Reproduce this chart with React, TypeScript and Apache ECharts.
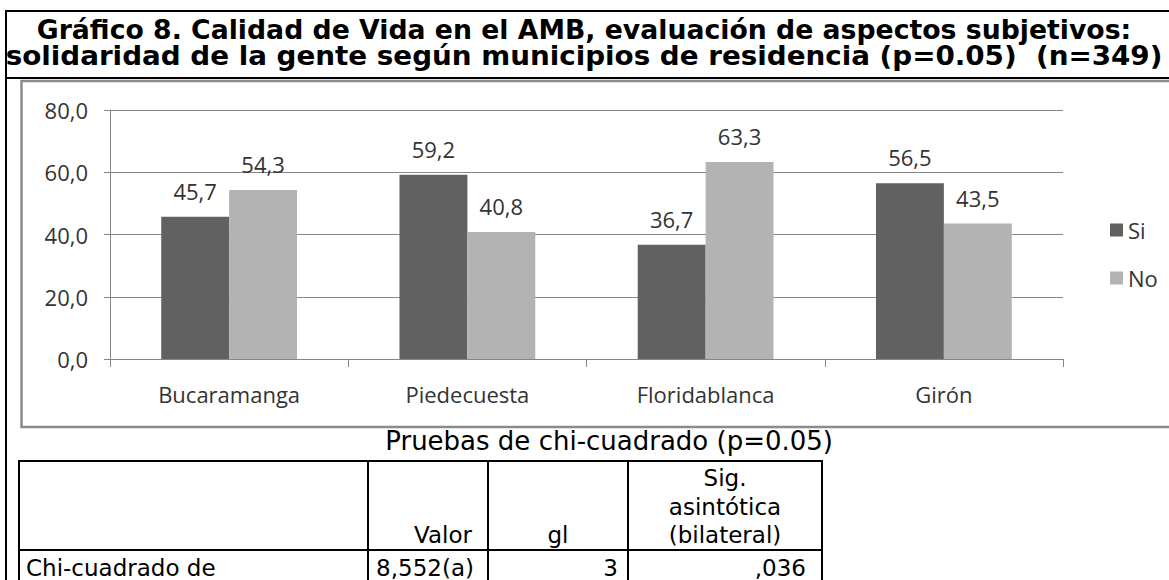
import React, { useEffect, useRef } from "react";
import * as echarts from "echarts";

const categories = ["Bucaramanga", "Piedecuesta", "Floridablanca", "Girón"];
const seriesNames = ["Si", "No"];
const siValues = [45.7, 59.2, 36.7, 56.5];
const noValues = [54.3, 40.8, 63.3, 43.5];
const yMin = 0;
const yMax = 80;
const yStep = 20;

const titleLines = [
  "Gráfico 8. Calidad de Vida en el AMB, evaluación de aspectos subjetivos:",
  "solidaridad de la gente según municipios de residencia (p=0.05)  (n=349)",
];
const tableTitle = "Pruebas de chi-cuadrado (p=0.05)";
const tableHeaderSig = ["Sig.", "asintótica", "(bilateral)"];
const tableHeader = ["", "Valor", "gl"];
const tableRow = ["Chi-cuadrado de", "8,552(a)", "3", ",036"];

const fmt = (v: number) => v.toFixed(1).replace(".", ",");

const CHART_FONT = '"Open Sans", "Noto Sans", sans-serif';
const DOC_FONT = '"DejaVu Sans", Verdana, sans-serif';

function measure(text: string, font: string) {
  const ctx = document.createElement("canvas").getContext("2d");
  if (!ctx) return 0;
  ctx.font = font;
  return ctx.measureText(text).width;
}

function txt(text: string, x: number, y: number, font: string, align: string, extra: any = {}) {
  return {
    type: "text",
    z: 10,
    x,
    y,
    style: {
      text,
      x: 0,
      y: 0,
      font,
      fill: "#000",
      align,
      verticalAlign: "middle",
      textAlign: align,
      textVerticalAlign: "middle",
    },
    ...extra,
  };
}

function ln(x1: number, y1: number, x2: number, y2: number, stroke: string, lineWidth: number) {
  return {
    type: "line",
    z: 5,
    shape: { x1, y1, x2, y2 },
    style: { stroke, lineWidth },
  };
}

export default function App() {
  const ref = useRef<HTMLDivElement>(null);
  useEffect(() => {
    if (!ref.current) return;
    const chart = echarts.init(ref.current, undefined, { renderer: "svg" });
    const titleFont = `bold 27px ${DOC_FONT}`;
    const cellFont = `23px ${DOC_FONT}`;
    const titleTargets = [1095, 1157];
    const titleScale = titleLines.map((t, i) => {
      const w = measure(t, titleFont);
      return w > 0 ? titleTargets[i] / w : 1;
    });
    const graphic: any[] = [
      // title box
      ln(5, 11, 1169, 11, "#000", 2),
      ln(6, 11, 6, 580, "#000", 2),
      ln(5, 78, 1169, 78, "#000", 2),
      txt(titleLines[0], 584, 29, titleFont, "center", { scaleX: titleScale[0] }),
      txt(titleLines[1], 584, 56, titleFont, "center", { scaleX: titleScale[1] }),
      // chart frame
      {
        type: "rect",
        z: 4,
        shape: { x: 21.5, y: 81, width: 1200, height: 346 },
        style: { fill: "none", stroke: "#8b8b8b", lineWidth: 2.5 },
      },
      // table title
      txt(tableTitle, 833, 441, `26px ${DOC_FONT}`, "right"),
      // table lines
      ln(18, 461, 823, 461, "#000", 2),
      ln(18, 550, 823, 550, "#000", 2),
      ln(19, 460, 19, 580, "#000", 2),
      ln(368, 460, 368, 580, "#000", 2),
      ln(488, 460, 488, 580, "#000", 2),
      ln(628, 460, 628, 580, "#000", 2),
      ln(822, 460, 822, 580, "#000", 2),
      // header
      txt(tableHeader[1], 472, 535, cellFont, "right"),
      txt(tableHeader[2], 558, 535, cellFont, "center"),
      txt(tableHeaderSig[0], 725, 478, cellFont, "center"),
      txt(tableHeaderSig[1], 725, 507, cellFont, "center"),
      txt(tableHeaderSig[2], 725, 535, cellFont, "center"),
      // row
      txt(tableRow[0], 26, 568, cellFont, "left"),
      txt(tableRow[1], 474, 568, cellFont, "right"),
      txt(tableRow[2], 618, 568, cellFont, "right"),
      txt(tableRow[3], 806, 568, cellFont, "right"),
    ];

    const labelStyle = {
      show: true,
      position: "top",
      distance: 15,
      fontFamily: CHART_FONT,
      fontSize: 22,
      color: "#333",
      formatter: (p: any) => fmt(p.value),
    };

    chart.setOption({
      animation: false,
      backgroundColor: "#fff",
      grid: { left: 110, right: 106, top: 110, bottom: 221, containLabel: false },
      legend: {
        orient: "vertical",
        left: 1105,
        top: 214,
        itemWidth: 13,
        itemHeight: 13,
        itemGap: 26,
        icon: "rect",
        data: seriesNames,
        textStyle: { fontFamily: CHART_FONT, fontSize: 22, color: "#333" },
      },
      xAxis: {
        type: "category",
        data: categories,
        axisLine: { lineStyle: { color: "#868686", width: 1 } },
        axisTick: { show: true, length: 8, lineStyle: { color: "#868686" } },
        axisLabel: { fontFamily: CHART_FONT, fontSize: 22, color: "#333", margin: 24 },
      },
      yAxis: {
        type: "value",
        min: yMin,
        max: yMax,
        interval: yStep,
        axisLine: { show: true, lineStyle: { color: "#868686", width: 1 } },
        axisTick: { show: true, length: 6, lineStyle: { color: "#868686" } },
        splitLine: { lineStyle: { color: "#868686", width: 1 } },
        axisLabel: {
          fontFamily: CHART_FONT,
          fontSize: 22,
          color: "#333",
          margin: 22,
          formatter: (v: number) => fmt(v),
        },
      },
      series: [
        {
          name: seriesNames[0],
          type: "bar",
          data: siValues,
          barGap: "0%",
          barCategoryGap: "43%",
          itemStyle: { color: "#616161" },
          label: labelStyle,
        },
        {
          name: seriesNames[1],
          type: "bar",
          data: noValues,
          barGap: "0%",
          barCategoryGap: "43%",
          itemStyle: { color: "#b3b3b3" },
          label: labelStyle,
        },
      ],
      graphic,
    });
    return () => chart.dispose();
  }, []);
  return (
    <div
      ref={ref}
      style={{ position: "absolute", left: 0, top: 0, width: 1169, height: 580, background: "#fff" }}
    />
  );
}
